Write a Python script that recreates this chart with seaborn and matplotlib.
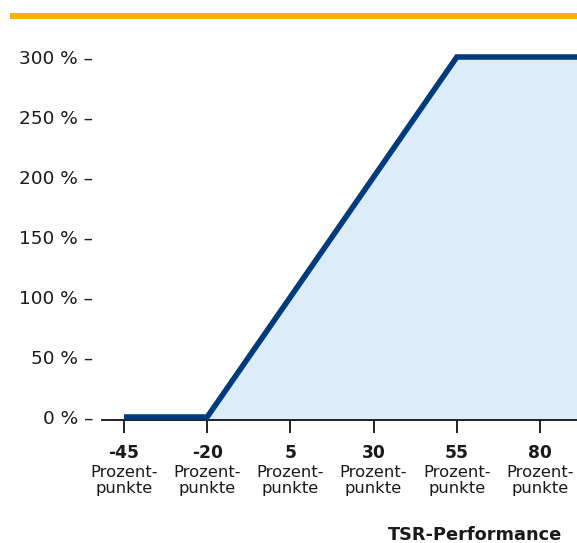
import matplotlib
matplotlib.use("Agg")
import matplotlib.pyplot as plt
import seaborn as sns
import pandas as pd
from matplotlib.lines import Line2D

# Data
tsr_points = [-45, -20, 55, 95]
payout_pct = [0, 0, 300, 300]
x_ticks = [-45, -20, 5, 30, 55, 80]
x_tick_unit = "Prozent-\npunkte"
y_ticks = [0, 50, 100, 150, 200, 250, 300]
y_tick_labels = [f"{v} % \u2013" for v in y_ticks]
x_title = "TSR-Performance"

LINE = "#003c7d"
FILL = "#dcecf9"
ORANGE = "#f9b000"
TXT = "#1a1a1a"

sns.set_theme(style="white")
plt.rcParams["font.family"] = ["DejaVu Sans"]

fig = plt.figure(figsize=(5.77, 5.43), dpi=100)
ax = fig.add_axes([102 / 577, 123 / 543, 1 - 102 / 577, (513 - 123) / 543])

df = pd.DataFrame({"tsr": tsr_points, "payout": payout_pct})
ax.set_xlim(-51.6, 91.1)
ax.set_ylim(-2.5, 322.5)

ax.fill_between(df["tsr"], df["payout"], ax.get_ylim()[0], color=FILL, lw=0, zorder=1)
sns.lineplot(data=df, x="tsr", y="payout", ax=ax, color=LINE, lw=4,
             solid_joinstyle="miter", solid_capstyle="butt", zorder=3)

for s in ["top", "right", "left"]:
    ax.spines[s].set_visible(False)
ax.spines["bottom"].set_color("#111111")
ax.spines["bottom"].set_linewidth(1.3)
ax.spines["bottom"].set_zorder(2)

ax.set_yticks(y_ticks)
ax.set_yticklabels(y_tick_labels, fontsize=13.3, color=TXT)
ax.tick_params(axis="y", length=0, pad=6.5)

ax.set_xticks(x_ticks)
ax.set_xticklabels([])
ax.tick_params(axis="x", bottom=True, length=9, width=1.3, color="#111111", direction="out")
ax.set_xlabel("")
ax.set_ylabel("")

for xv in x_ticks:
    ax.annotate(f"{xv}", xy=(xv, 0), xycoords=("data", "axes fraction"),
                xytext=(0, -38), textcoords="offset pixels", ha="center", va="baseline",
                fontsize=12.3, fontweight="bold", color=TXT, annotation_clip=False)
    ax.annotate(x_tick_unit, xy=(xv, 0), xycoords=("data", "axes fraction"),
                xytext=(0, -73), textcoords="offset pixels", ha="center", va="baseline",
                fontsize=11.8, color=TXT, linespacing=1.05, multialignment="center",
                annotation_clip=False)

fig.text(562 / 577, 1 - 540 / 543, x_title, ha="right", va="baseline",
         fontsize=12.8, fontweight="bold", color=TXT)

fig.add_artist(Line2D([10 / 577, 1], [1 - 16 / 543, 1 - 16 / 543],
                      transform=fig.transFigure, color=ORANGE, lw=4.3,
                      solid_capstyle="butt"))

fig.savefig("out.png", dpi=100)
